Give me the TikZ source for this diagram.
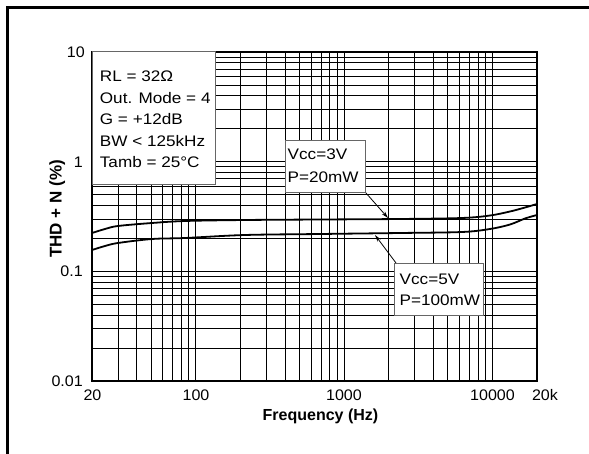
\documentclass[tikz,border=0pt]{standalone}
\usepackage{fontspec}
\setmainfont{Liberation Sans}
\newfontfamily\boxfont[FakeStretch=1.12]{Liberation Sans}
\newfontfamily\tickfont[FakeStretch=1.05]{Liberation Sans}
\usetikzlibrary{arrows.meta}
\tikzset{
  gridline/.style={line width=0.85pt, black},
  frameline/.style={line width=1.2pt, black},
  curve/.style={line width=1.8pt, black, line cap=round},
  infobox/.style={draw=black!60, line width=0.8pt, fill=white, inner sep=0pt, rectangle},
  boxtext/.style={font=\boxfont\fontsize{15.3pt}{21.5pt}\selectfont, align=left, inner sep=0pt, anchor=base west},
  ticklabel/.style={font=\tickfont\fontsize{15.3pt}{18pt}\selectfont, inner sep=0pt},
  axislabel/.style={font=\bfseries\fontsize{16pt}{19pt}\selectfont, inner sep=0pt, anchor=base},
  pointer/.style={line width=0.8pt, -{Stealth[length=7pt,width=4pt]}}
}
\begin{document}
\begin{tikzpicture}[x=1pt,y=-1pt]
\useasboundingbox (0,0) rectangle (589,454);
\fill[white] (0,0) rectangle (589,454);
\draw[line width=3pt] (7.5,454) -- (7.5,7.5) -- (589,7.5);
% grid
\begin{scope}
\clip (91.5,51.5) rectangle (537.5,381.5);
\foreach \k in {0,1,2,3}{\foreach \m in {1,...,9}{
  \pgfmathsetmacro\gx{92+148.33*(\k+ln(\m/2)/ln(10))}
  \draw[gridline] (\gx,52) -- (\gx,381);
  \pgfmathsetmacro\gy{381-109.67*(\k+ln(\m)/ln(10))}
  \draw[gridline] (92,\gy) -- (537,\gy);
}}
\end{scope}
\draw[frameline] (92,52) rectangle (537,381);
% curves
\draw[curve] plot[smooth, tension=0.55] coordinates {(92,233) (105,229) (118,226) (152,223) (185,221) (245,220) (320,219.5) (400,219) (462,218) (490,215.5) (510,211.5) (525,207.5) (537,204)};
\draw[curve] plot[smooth, tension=0.55] coordinates {(92,250) (105,246) (118,243) (152,239) (185,238) (245,235) (320,234) (400,233) (462,232) (490,229) (510,224.5) (525,218.5) (537,215)};
% info box
\node[infobox, minimum width=123pt, minimum height=133pt, anchor=north west] (rlbox) at (92,51) {};
\node[boxtext] (rltext) at (99.7,168) {RL = 32Ω\\Out. Mode = 4\\G = +12dB\\BW < 125kHz\\Tamb = 25°C};
% Vcc=3V
\node[infobox, minimum width=80pt, minimum height=52pt, anchor=north west] (v3box) at (285,140) {};
\node[boxtext, font=\boxfont\fontsize{15.3pt}{23.4pt}\selectfont] (v3text) at (287.5,182.7) {Vcc=3V\\P=20mW};
\coordinate (a3) at (388,218);
\draw[pointer] (v3box.south east) -- (a3);
% Vcc=5V
\node[infobox, minimum width=89pt, minimum height=52pt, anchor=north west] (v5box) at (394,263) {};
\node[boxtext, font=\boxfont\fontsize{15.3pt}{20.3pt}\selectfont] (v5text) at (399.5,305.3) {Vcc=5V\\P=100mW};
\coordinate (a5) at (375,235);
\draw[pointer] ([xshift=2pt]v5box.north west) -- (a5);
% y tick labels
\node[ticklabel, anchor=base east] (y10) at (85,57.4) {10};
\node[ticklabel, anchor=base east] (y1) at (83,167.1) {1};
\node[ticklabel, anchor=base east] (y01) at (83,276.8) {0.1};
\node[ticklabel, anchor=base east] (y001) at (83,386.4) {0.01};
% x tick labels
\node[ticklabel, anchor=base] (x20) at (92.5,400.4) {20};
\node[ticklabel, anchor=base] (x100) at (196,400.4) {100};
\node[ticklabel, anchor=base] (x1000) at (344,400.4) {1000};
\node[ticklabel, anchor=base] (x10000) at (492.5,400.4) {10000};
\node[ticklabel, anchor=base] (x20k) at (545,400.4) {20k};
% axis labels
\node[axislabel] (xlab) at (320.5,420) {Frequency (Hz)};
\node[axislabel, rotate=90, font=\bfseries\fontsize{17pt}{20pt}\selectfont] (ylab) at (61.5,209) {THD + N (\%)};
\end{tikzpicture}
\end{document}
